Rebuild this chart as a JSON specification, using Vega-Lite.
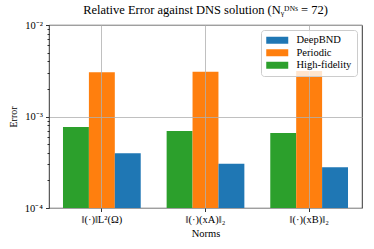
{
  "$schema": "https://vega.github.io/schema/vega-lite/v6.json",
  "width": 313,
  "height": 183,
  "autosize": {"type": "none"},
  "padding": {"left": 49, "top": 25, "right": 12, "bottom": 41},
  "background": "white",
  "title": {
    "text": "Relative Error against DNS solution (Nᵧᴰᴺˢ = 72)",
    "font": "'Liberation Serif', serif",
    "fontSize": 12.5,
    "fontWeight": "normal",
    "color": "#000",
    "offset": 4
  },
  "data": {
    "values": [
      {"Norm": "‖(·)‖L²(Ω)", "Method": "High-fidelity", "Error": 0.000768},
      {"Norm": "‖(·)‖L²(Ω)", "Method": "Periodic", "Error": 0.00304},
      {"Norm": "‖(·)‖L²(Ω)", "Method": "DeepBND", "Error": 0.000396},
      {"Norm": "‖(·)(xA)‖₂", "Method": "High-fidelity", "Error": 0.000694},
      {"Norm": "‖(·)(xA)‖₂", "Method": "Periodic", "Error": 0.00309},
      {"Norm": "‖(·)(xA)‖₂", "Method": "DeepBND", "Error": 0.000305},
      {"Norm": "‖(·)(xB)‖₂", "Method": "High-fidelity", "Error": 0.00066},
      {"Norm": "‖(·)(xB)‖₂", "Method": "Periodic", "Error": 0.00314},
      {"Norm": "‖(·)(xB)‖₂", "Method": "DeepBND", "Error": 0.000279}
    ]
  },
  "mark": {"type": "bar", "clip": true},
  "encoding": {
    "x": {
      "field": "Norm",
      "type": "nominal",
      "sort": null,
      "scale": {"paddingInner": 0.25, "paddingOuter": 0.135},
      "axis": {
        "title": "Norms",
        "labelAngle": 0,
        "bandPosition": 0.5,
        "grid": true,
        "gridColor": "#b0b0b0",
        "gridWidth": 0.8,
        "zindex": 1,
        "domain": false,
        "tickColor": "#000",
        "tickSize": 3.5,
        "tickWidth": 0.8,
        "labelFont": "'Liberation Serif', serif",
        "labelFontSize": 10.5,
        "labelColor": "#000",
        "labelPadding": 3,
        "titleFont": "'Liberation Serif', serif",
        "titleFontSize": 10.5,
        "titleFontWeight": "normal",
        "titleColor": "#000",
        "titlePadding": 3
      }
    },
    "xOffset": {
      "field": "Method",
      "type": "nominal",
      "scale": {"domain": ["High-fidelity", "Periodic", "DeepBND"], "paddingInner": 0, "paddingOuter": 0}
    },
    "y": {
      "field": "Error",
      "type": "quantitative",
      "scale": {"type": "log", "domain": [0.0001, 0.01], "nice": false},
      "axis": {
        "title": "Error",
        "values": [0.0001, 0.0002, 0.0003, 0.0004, 0.0005, 0.0006, 0.0007, 0.0008, 0.0009, 0.001, 0.002, 0.003, 0.004, 0.005, 0.006, 0.007, 0.008, 0.009, 0.01],
        "labelExpr": "abs(log(datum.value)/LN10 - round(log(datum.value)/LN10)) < 0.000001 ? (round(log(datum.value)/LN10) == -4 ? '10⁻⁴' : round(log(datum.value)/LN10) == -3 ? '10⁻³' : '10⁻²') : ''",
        "grid": true,
        "gridColor": "#b0b0b0",
        "gridWidth": 0.8,
        "gridOpacity": {"condition": {"test": "abs(log(datum.value)/LN10 - round(log(datum.value)/LN10)) < 0.000001", "value": 1}, "value": 0},
        "tickSize": {"condition": {"test": "abs(log(datum.value)/LN10 - round(log(datum.value)/LN10)) < 0.000001", "value": 3.5}, "value": 2},
        "zindex": 1,
        "domain": false,
        "tickColor": "#000",
        "tickWidth": 0.8,
        "labelFont": "'Liberation Serif', serif",
        "labelFontSize": 10.5,
        "labelColor": "#000",
        "labelPadding": 3,
        "labelOverlap": false,
        "labelFlush": false,
        "titleFont": "'Liberation Serif', serif",
        "titleFontSize": 10,
        "titleFontWeight": "normal",
        "titleColor": "#000",
        "titlePadding": 6
      }
    },
    "y2": {"datum": 0.0001},
    "color": {
      "field": "Method",
      "type": "nominal",
      "scale": {"domain": ["DeepBND", "Periodic", "High-fidelity"], "range": ["#1f77b4", "#ff7f0e", "#2ca02c"]},
      "legend": {
        "title": null,
        "orient": "top-right",
        "offset": 5,
        "symbolType": "M-1,-0.7L3.4,-0.7L3.4,0.7L-1,0.7Z",
        "symbolSize": 100,
        "symbolStrokeWidth": 0,
        "labelFont": "'Liberation Serif', serif",
        "labelFontSize": 10.5,
        "labelColor": "#000",
        "labelOffset": 20,
        "rowPadding": 1.5,
        "fillColor": "rgba(255,255,255,0.8)",
        "strokeColor": "#cccccc",
        "cornerRadius": 3,
        "padding": 5
      }
    }
  },
  "config": {
    "view": {"stroke": "#000", "strokeWidth": 0.8},
    "legend": {"zindex": 2}
  }
}
